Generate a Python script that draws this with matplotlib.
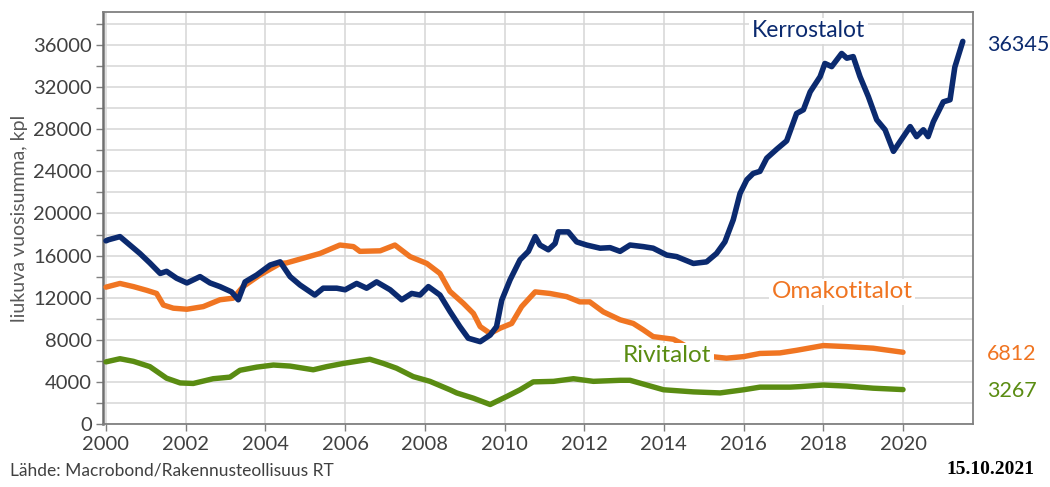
import matplotlib
matplotlib.use('Agg')
import matplotlib.pyplot as plt
import matplotlib.transforms as mtransforms
import numpy as np

# Data (rolling 12-month sums, pcs)
kerros_years = [2000.0, 2000.06, 2000.35, 2000.6, 2000.85, 2001.1, 2001.36, 2001.52, 2001.77, 2002.03,
                2002.36, 2002.61, 2002.86, 2003.15, 2003.32, 2003.49, 2003.78, 2004.12, 2004.37, 2004.62,
                2004.87, 2005.24, 2005.45, 2005.79, 2006.0, 2006.29, 2006.54, 2006.79, 2007.13, 2007.42,
                2007.67, 2007.88, 2008.09, 2008.38, 2008.63, 2008.88, 2009.09, 2009.39, 2009.64, 2009.8,
                2009.93, 2010.14, 2010.39, 2010.6, 2010.77, 2010.89, 2011.1, 2011.27, 2011.35, 2011.6,
                2011.81, 2012.06, 2012.4, 2012.65, 2012.9, 2013.15, 2013.48, 2013.73, 2014.07, 2014.32,
                2014.74, 2015.07, 2015.32, 2015.53, 2015.74, 2015.91, 2016.08, 2016.24, 2016.41, 2016.58,
                2016.83, 2017.08, 2017.33, 2017.5, 2017.67, 2017.92, 2018.04, 2018.21, 2018.46, 2018.59,
                2018.75, 2018.92, 2019.13, 2019.34, 2019.55, 2019.76, 2019.92, 2020.18, 2020.34, 2020.51,
                2020.63, 2020.76, 2021.01, 2021.18, 2021.3, 2021.5]
kerros = [17400, 17500, 17800, 17000, 16200, 15300, 14300, 14500, 13850, 13400,
          14000, 13400, 13050, 12550, 11800, 13500, 14150, 15100, 15400, 14000,
          13200, 12250, 12900, 12900, 12750, 13350, 12900, 13500, 12750, 11800,
          12400, 12250, 13050, 12250, 10700, 9250, 8150, 7820, 8450, 9250,
          11750, 13700, 15600, 16400, 17800, 17000, 16550, 17150, 18250, 18250,
          17300, 17000, 16700, 16750, 16400, 17000, 16850, 16700, 16050, 15900,
          15250, 15400, 16200, 17300, 19400, 21900, 23200, 23800, 24000, 25250,
          26100, 26900, 29500, 29850, 31550, 33000, 34250, 33950, 35200, 34750,
          34900, 33000, 31100, 28900, 27950, 25900, 26800, 28250, 27300, 27950,
          27300, 28700, 30600, 30800, 33900, 36345]

omakoti_years = [2000.0, 2000.35, 2000.69, 2001.02, 2001.27, 2001.44, 2001.69, 2002.03, 2002.44, 2002.86,
                 2003.19, 2003.44, 2003.86, 2004.37, 2004.53, 2004.95, 2005.37, 2005.87, 2006.21, 2006.37,
                 2006.88, 2007.25, 2007.63, 2008.05, 2008.38, 2008.63, 2008.97, 2009.22, 2009.39, 2009.64,
                 2009.89, 2010.18, 2010.43, 2010.77, 2011.14, 2011.56, 2011.89, 2012.14, 2012.48, 2012.9,
                 2013.23, 2013.48, 2013.73, 2014.24, 2014.6, 2015.2, 2015.57, 2016.0, 2016.41, 2016.91,
                 2017.33, 2018.0, 2018.59, 2019.25, 2020.0]
omakoti = [13000, 13350, 13050, 12700, 12400, 11300, 11000, 10900, 11150, 11800,
           11950, 13050, 14150, 15250, 15300, 15750, 16200, 17000, 16850, 16400,
           16450, 17000, 15900, 15250, 14300, 12600, 11450, 10500, 9250, 8600,
           9100, 9550, 11150, 12550, 12400, 12100, 11600, 11600, 10650, 9900,
           9550, 8950, 8300, 8050, 7300, 6400, 6250, 6400, 6700, 6750,
           7000, 7450, 7350, 7200, 6812]

rivi_years = [2000.0, 2000.35, 2000.69, 2001.1, 2001.52, 2001.86, 2002.19, 2002.69, 2003.11, 2003.36,
              2003.78, 2004.2, 2004.62, 2005.2, 2005.54, 2005.95, 2006.62, 2006.96, 2007.29, 2007.71,
              2008.13, 2008.63, 2008.8, 2009.22, 2009.64, 2010.05, 2010.39, 2010.72, 2011.23, 2011.73,
              2012.23, 2012.9, 2013.15, 2013.57, 2013.99, 2014.74, 2015.41, 2016.0, 2016.41, 2017.16,
              2017.42, 2018.0, 2018.59, 2019.25, 2020.0]
rivi = [5900, 6200, 5950, 5450, 4350, 3900, 3850, 4300, 4450, 5100,
        5400, 5600, 5500, 5150, 5450, 5750, 6150, 5750, 5300, 4500,
        4050, 3250, 2950, 2450, 1850, 2600, 3250, 4000, 4050, 4300,
        4050, 4150, 4150, 3700, 3250, 3050, 2950, 3250, 3500, 3500,
        3550, 3700, 3600, 3400, 3267]

series_names = ['Kerrostalot', 'Omakotitalot', 'Rivitalot']
x_ticks = list(range(2000, 2021, 2))
y_ticks = list(range(0, 36001, 4000))

navy = '#0B2A6F'
orange = '#F07522'
green = '#5A8C12'

plt.rcParams['font.family'] = ['Lato', 'DejaVu Sans']

fig = plt.figure(figsize=(10.5, 4.87), dpi=100)
ax = fig.add_axes([0.0981, 0.1294, 0.8286, 0.846])

ax.plot(rivi_years, rivi, color=green, lw=3.9, solid_capstyle='round', zorder=3)
ax.plot(omakoti_years, omakoti, color=orange, lw=3.9, solid_capstyle='round', zorder=3)
ax.plot(kerros_years, kerros, color=navy, lw=4.0, solid_capstyle='round', zorder=4)

ax.set_xlim(1999.925, 2021.757)
ax.set_ylim(0, 39140)
ax.set_xticks(x_ticks)
ax.set_xticklabels([str(t) for t in x_ticks])
ax.set_yticks(y_ticks)
ax.set_yticks(list(range(2000, 39000, 4000)), minor=True)
ax.grid(True, which='both', color='#D6D6D6', lw=1.1, zorder=0)
ax.set_axisbelow(True)
ax.tick_params(axis='both', which='both', colors='#7F7F7F', labelcolor='#404040',
               labelsize=14.5, length=5, width=1.0, direction='out')
ax.tick_params(axis='y', which='both', pad=3)
for s in ax.spines.values():
    s.set_color('#808080')
    s.set_linewidth(1.3)
ax.spines['left'].set_color('#6F6F6F')
ax.spines['left'].set_linewidth(1.8)

ax.set_ylabel('liukuva vuosisumma, kpl', fontsize=14, color='#595959', labelpad=4)

box = dict(facecolor='white', edgecolor='none', pad=2)
ax.text(2017.62, 37340, series_names[0], color=navy, fontsize=16.5, ha='center', va='center',
        bbox=box, zorder=6)
ax.text(2018.47, 12540, series_names[1], color=orange, fontsize=17.5, ha='center', va='center',
        bbox=box, zorder=6)
ax.text(2014.08, 6460, series_names[2], color=green, fontsize=17.5, ha='center', va='center',
        bbox=box, zorder=6)

# end values outside the plot area
trans = mtransforms.blended_transform_factory(ax.transAxes, ax.transData)
ax.text(1.016, kerros[-1] - 300, str(kerros[-1]), transform=trans, color=navy,
        fontsize=15.5, ha='left', va='center')
ax.text(1.016, omakoti[-1] - 150, str(omakoti[-1]), transform=trans, color=orange,
        fontsize=15.5, ha='left', va='center')
ax.text(1.016, rivi[-1] - 130, str(rivi[-1]), transform=trans, color=green,
        fontsize=15.5, ha='left', va='center')

fig.text(0.0095, 0.018, 'Lähde: Macrobond/Rakennusteollisuus RT', fontsize=12.5,
         color='#404040', ha='left', va='bottom')
fig.text(0.985, 0.018, '15.10.2021', fontsize=14, fontweight='bold', family='Liberation Serif',
         color='black', ha='right', va='bottom')

fig.savefig('out.png', dpi=100)
